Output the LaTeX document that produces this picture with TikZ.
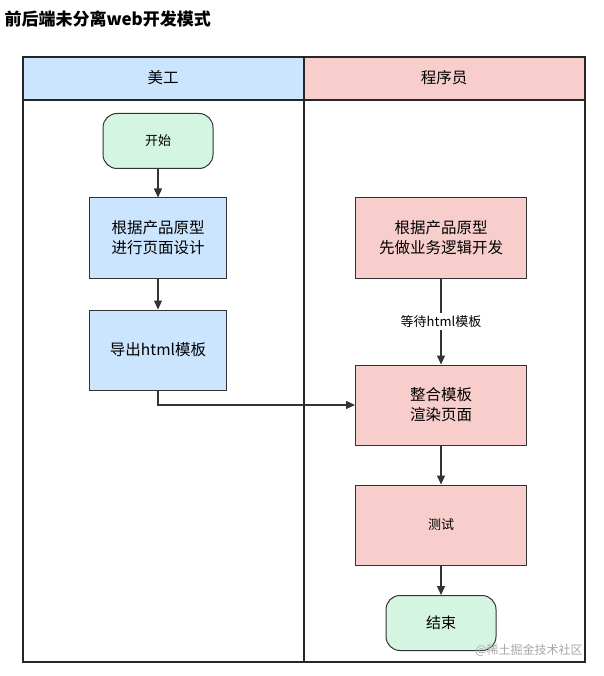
\documentclass[tikz,border=0pt]{standalone}
\usepackage{fontspec}
\setmainfont{Noto Sans CJK SC}
\usetikzlibrary{arrows.meta}
\definecolor{lblue}{HTML}{CCE5FF}
\definecolor{lpink}{HTML}{F8CECC}
\definecolor{lgreen}{HTML}{D5F5E3}
\begin{document}
\begin{tikzpicture}[x=1pt,y=-1pt,
 box/.style={draw=black!80,line width=1pt,minimum width=137pt,minimum height=80pt,align=center,font=\fontsize{15.5}{20}\selectfont},
 term/.style={draw=black!80,line width=1pt,rounded corners=14pt,fill=lgreen,minimum width=110pt,minimum height=55pt,font=\fontsize{13}{16}\selectfont},
 arr/.style={draw=black!80,line width=1.2pt,-{Triangle[length=9pt,width=8pt]}}]
\useasboundingbox (0,0) rectangle (603,676);
\node[anchor=west,font=\bfseries\fontsize{17}{20}\selectfont] (title) at (1,19) {前后端未分离web开发模式};
\fill[lblue] (23,57) rectangle (304,100);
\fill[lpink] (304,57) rectangle (585,100);
\draw[black!85,line width=1.3pt] (23,57) rectangle (585,662) (23,100) -- (585,100) (304,57) -- (304,662);
\node[font=\fontsize{15.5}{18}\selectfont] (h1) at (163,78) {美工};
\node[font=\fontsize{15.5}{18}\selectfont] (h2) at (444,78) {程序员};
\node[term] (s) at (158,141) {开始};
\node[box,fill=lblue] (a) at (158,238) {根据产品原型\\进行页面设计};
\node[box,fill=lblue] (b) at (158,350) {导出html模板};
\node[box,fill=lpink,minimum width=171pt] (c) at (441,238) {根据产品原型\\先做业务逻辑开发};
\node[box,fill=lpink,minimum width=171pt] (d) at (441,405) {整合模板\\渲染页面};
\node[box,fill=lpink,minimum width=171pt,font=\fontsize{13}{16}\selectfont] (t) at (441,525) {测试};
\node[term,font=\fontsize{15}{18}\selectfont] (e) at (441,623) {结束};
\draw[arr] (s) -- (a);
\draw[arr] (a) -- (b);
\draw[arr] (c) -- node[fill=white,font=\fontsize{13}{16}\selectfont,inner sep=2pt] (w) {等待html模板} (d);
\draw[arr] (b.south) |- (d.west);
\draw[arr] (d) -- (t);
\draw[arr] (t) -- (e);
\node[text=black!35,font=\fontsize{12}{14}\selectfont] (wm) at (529,650) {@稀土掘金技术社区};
\end{tikzpicture}
\end{document}
